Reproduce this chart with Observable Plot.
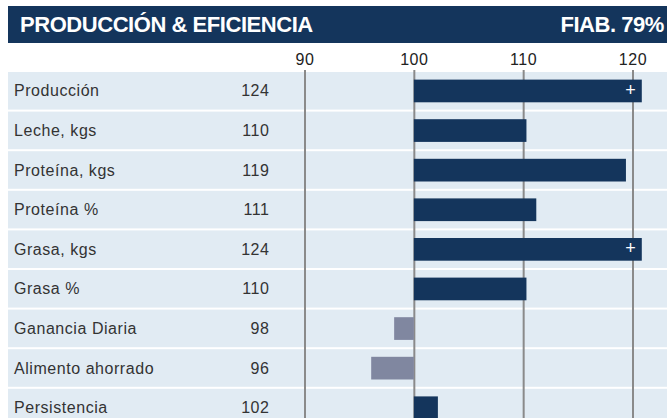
<!DOCTYPE html>
<html>
<head>
<meta charset="utf-8">
<script src="https://cdn.jsdelivr.net/npm/d3@7"></script>
<script src="https://cdn.jsdelivr.net/npm/@observablehq/plot@0.6"></script>
<style>
  html, body { margin: 0; padding: 0; background: #ffffff; overflow: hidden; }
  body { position: relative; width: 667px; height: 418px; font-family: "Liberation Sans", Arial, sans-serif; }
  #header {
    position: absolute; left: 8px; top: 6px; width: 659px; height: 37px; background: #14355c; color: #ffffff;
    font-weight: bold; font-size: 22px; letter-spacing: -0.45px; box-sizing: border-box;
  }
  #header .l { position: absolute; left: 12px; top: 6px; }
  #header .r { position: absolute; right: 3px; top: 6px; }
  #chart { position: absolute; left: 0; top: 44px; }
  #chart svg { display: block; }
</style>
</head>
<body>
<div id="header"><span class="l">PRODUCCIÓN &amp; EFICIENCIA</span><span class="r">FIAB. 79%</span></div>
<div id="chart"></div>
<script>
const categories = ["Producción", "Leche, kgs", "Proteína, kgs", "Proteína %", "Grasa, kgs", "Grasa %", "Ganancia Diaria", "Alimento ahorrado", "Persistencia"];
const shownValues = [124, 110, 119, 111, 124, 110, 98, 96, 102];
const barValues = [124, 110.3, 119.4, 111.2, 124, 110.3, 98.2, 96.1, 102.2];
const tickValues = [90, 100, 110, 120];

const base = 100;
const cap = 120.85;       // bars beyond the axis end are clipped and flagged with "+"
const plusAt = 119.8;

const rows = categories.map((name, i) => ({name, shown: shownValues[i], value: barValues[i]}));
const navy = "#14355c", grey = "#8087a0", band = "#e1ebf3", grid = "#8a8a8a";

const chart = Plot.plot({
  width: 667,
  height: 374,
  marginLeft: 8, marginRight: 0, marginTop: 26, marginBottom: 0,
  style: {fontFamily: "Liberation Sans, Arial, sans-serif", background: "#ffffff", letterSpacing: "0.55px"},
  x: {domain: [90, 120], range: [304.5, 632.5], axis: null},
  y: {domain: categories, range: [28, 28 + 9 * 39.6 - 2], paddingInner: 2 / 39.6, paddingOuter: 0, round: false, axis: null},
  marks: [
    Plot.cell(rows, {y: "name", fill: band}),
    Plot.ruleX(tickValues, {stroke: grid, strokeWidth: 2}),
    Plot.barX(rows.filter(d => d.value >= base), {y: "name", x1: base, x2: d => Math.min(d.value, cap), fill: navy, insetTop: 7.6, insetBottom: 7.3}),
    Plot.barX(rows.filter(d => d.value < base), {y: "name", x1: d => d.value, x2: base, fill: grey, insetTop: 7.6, insetBottom: 7.3}),
    Plot.text(rows.filter(d => d.value > cap), {y: "name", x: () => plusAt, text: () => "+", fill: "#ffffff", fontSize: 18, dy: -1.5}),
    Plot.text(rows, {y: "name", text: "name", frameAnchor: "left", dx: 5.5, textAnchor: "start", fontSize: 16, fill: "#333333"}),
    Plot.text(rows, {y: "name", text: d => String(d.shown), frameAnchor: "left", dx: 261, textAnchor: "end", fontSize: 16, fill: "#333333"}),
    Plot.text(tickValues, {x: d => d, text: d => String(d), frameAnchor: "top", lineAnchor: "bottom", dy: -6, fontSize: 16, fill: "#222222"})
  ]
});
document.getElementById("chart").appendChild(chart);
</script>
</body>
</html>
